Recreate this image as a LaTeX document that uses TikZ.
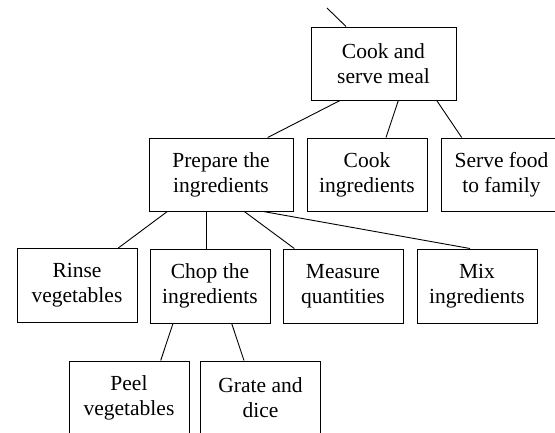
\documentclass[tikz,border=0pt]{standalone}
\usepackage{fontspec}
\setmainfont{Liberation Serif}
\begin{document}
\begin{tikzpicture}[x=1pt,y=-1pt,
  task/.style={draw=black, line width=1pt, fill=white, inner sep=0pt,
    minimum width=120pt, minimum height=73pt, align=center,
    font=\fontsize{21.5}{25}\selectfont},
  link/.style={draw=black, line width=0.9pt}]
  \useasboundingbox (0,0) rectangle (555,432);
  \clip (0,0) rectangle (555,432);
  \fill[white] (0,0) rectangle (555,432);

  % tasks
  \node[task, minimum width=145pt] (meal) at (383.5,63.5) {Cook and\\serve meal};
  \node[task, minimum width=144pt] (prep) at (221,174.5) {Prepare the\\ingredients};
  \node[task] (cooki) at (367,174.5) {Cook\\ingredients};
  \node[task] (serve) at (501.5,174.5) {Serve food\\to family};
  \node[task, minimum height=74pt] (rinse) at (77,285.5) {Rinse\\vegetables};
  \node[task, minimum height=74pt] (chop) at (210,286) {Chop the\\ingredients};
  \node[task, minimum height=74pt] (measure) at (343,286) {Measure\\quantities};
  \node[task, minimum height=74pt] (mix) at (477,286) {Mix\\ingredients};
  \node[task] (peel) at (129,397.5) {Peel\\vegetables};
  \node[task] (grate) at (260.5,397.5) {Grate and\\dice};

  % link to the parent task above
  \coordinate (up) at (327,8);
  \draw[link] (up) -- ([xshift=-37.5pt]meal.north);

  % decomposition links
  \draw[link] ([xshift=-43.5pt]meal.south) -- ([xshift=46.7pt]prep.north);
  \draw[link] ([xshift=14.8pt]meal.south) -- ([xshift=19pt]cooki.north);
  \draw[link] ([xshift=53.2pt]meal.south) -- ([xshift=-39.8pt]serve.north);

  \draw[link] ([xshift=-53.7pt]prep.south) -- ([xshift=41.3pt]rinse.north);
  \draw[link] ([xshift=-14.3pt]prep.south) -- ([xshift=-3.3pt]chop.north);
  \draw[link] ([xshift=23.3pt]prep.south) -- ([xshift=-48.7pt]measure.north);
  \draw[link] ([xshift=42.3pt]prep.south) -- ([xshift=-7pt]mix.north);

  \draw[link] ([xshift=-37pt]chop.south) -- ([xshift=31.7pt]peel.north);
  \draw[link] ([xshift=21.7pt]chop.south) -- ([xshift=-16.5pt]grate.north);
\end{tikzpicture}
\end{document}
